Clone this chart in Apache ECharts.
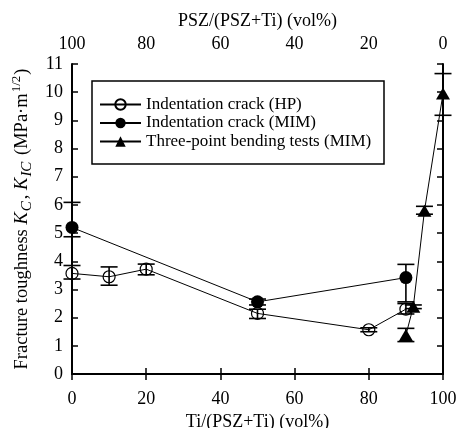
<!DOCTYPE html>
<html><head><meta charset="utf-8">
<script src="https://cdn.jsdelivr.net/npm/echarts@6/dist/echarts.min.js"></script>
<style>html,body{margin:0;padding:0;background:#fff}#c{width:460px;height:428px}</style>
</head><body><div id="c"></div>
<script>
// Data
var seriesNames = ['Indentation crack (HP)', 'Indentation crack (MIM)', 'Three-point bending tests (MIM)'];
var xTicksBottom = [0, 20, 40, 60, 80, 100];
var hpX = [0, 10, 20, 50, 80, 90];
var hpY = [3.57, 3.45, 3.72, 2.15, 1.57, 2.30];
var hpLow = [3.37, 3.15, 3.52, 1.97, 1.50, 2.13];
var hpHigh = [3.85, 3.80, 3.90, 2.30, 1.64, 2.50];
var mimX = [0, 50, 90];
var mimY = [5.20, 2.56, 3.42];
var mimLow = [4.87, 2.45, 2.56];
var mimHigh = [6.09, 2.66, 3.89];
var tpbX = [90, 92, 95, 100];
var tpbY = [1.38, 2.39, 5.79, 9.95];
var tpbLow = [1.15, 2.32, 5.67, 9.18];
var tpbHigh = [1.62, 2.45, 5.95, 10.66];

function pts(xs, ys) { return xs.map(function (x, i) { return [x, ys[i]]; }); }
function errs(xs, lo, hi) { return xs.map(function (x, i) { return [x, lo[i], hi[i]]; }); }

var FONT = '"Liberation Serif", "Times New Roman", serif';
function errSeries(data) {
  return {
    type: 'custom', xAxisIndex: 0, yAxisIndex: 0, clip: false, silent: true, z: 3,
    data: data,
    renderItem: function (params, api) {
      var x = api.value(0), lo = api.value(1), hi = api.value(2);
      var p1 = api.coord([x, lo]), p2 = api.coord([x, hi]);
      var w = 8.5;
      var st = { stroke: '#000', lineWidth: 1.6 };
      return { type: 'group', children: [
        { type: 'line', shape: { x1: p1[0], y1: p1[1], x2: p2[0], y2: p2[1] }, style: st },
        { type: 'line', shape: { x1: p1[0] - w, y1: p1[1], x2: p1[0] + w, y2: p1[1] }, style: st },
        { type: 'line', shape: { x1: p2[0] - w, y1: p2[1], x2: p2[0] + w, y2: p2[1] }, style: st }
      ] };
    }
  };
}

var axisCommon = {
  axisLine: { lineStyle: { color: '#000', width: 2 } },
  axisTick: { inside: true, length: 6, lineStyle: { color: '#000', width: 1.5 } },
  splitLine: { show: false },
  axisLabel: { color: '#000', fontFamily: FONT, fontSize: 18 },
  nameTextStyle: { color: '#000', fontFamily: FONT, fontSize: 18 }
};
function ax(extra) { return Object.assign({}, JSON.parse(JSON.stringify(axisCommon)), extra); }

var chart = echarts.init(document.getElementById('c'), null, { renderer: 'canvas' });
chart.setOption({
  animation: false,
  backgroundColor: '#fff',
  grid: { left: 72, right: 17, top: 64, bottom: 54, containLabel: false, outerBoundsMode: 'none' },
  xAxis: [
    ax({ type: 'value', position: 'bottom', min: 0, max: 100, interval: 20,
      name: 'Ti/(PSZ+Ti) (vol%)', nameLocation: 'middle', nameGap: 34,
      axisLabel: { color: '#000', fontFamily: FONT, fontSize: 18, margin: 16 } }),
    ax({ type: 'value', position: 'top', min: 0, max: 100, interval: 20, inverse: true,
      name: 'PSZ/(PSZ+Ti) (vol%)', nameLocation: 'middle', nameGap: 32,
      axisLabel: { color: '#000', fontFamily: FONT, fontSize: 18, margin: 11 } })
  ],
  yAxis: [
    ax({ type: 'value', position: 'left', min: 0, max: 11, interval: 1,
      name: '{a|Fracture toughness }{i|K}{s|C}{a|, }{i|K}{s|IC}{a| (MPa·m}{p|1/2}{a|)}',
      nameLocation: 'middle', nameGap: 36,
      axisLabel: { color: '#000', fontFamily: FONT, fontSize: 18, margin: 9 },
      nameTextStyle: { color: '#000', fontFamily: FONT, fontSize: 18,
        rich: {
          a: { fontFamily: FONT, fontSize: 18.5, color: '#000', lineHeight: 24 },
          i: { fontFamily: FONT, fontSize: 18.5, fontStyle: 'italic', color: '#000', lineHeight: 24 },
          s: { fontFamily: FONT, fontSize: 15, fontStyle: 'italic', color: '#000', lineHeight: 24, verticalAlign: 'bottom', padding: [0, 2, 0, 1] },
          p: { fontFamily: FONT, fontSize: 13, color: '#000', lineHeight: 24, verticalAlign: 'top', padding: [0, 1, 0, 1] }
        } } }),
    ax({ type: 'value', position: 'right', min: 0, max: 11, interval: 1,
      axisLabel: { show: false } })
  ],
  legend: {
    orient: 'vertical', left: 99, top: 95.5, itemWidth: 41, itemHeight: 13, itemGap: 0.5,
    padding: 0,
    textStyle: { color: '#000', fontFamily: FONT, fontSize: 17, lineHeight: 18 },
    data: seriesNames
  },
  graphic: [{ type: 'rect', shape: { x: 92, y: 81, width: 292, height: 83 },
    style: { fill: 'none', stroke: '#000', lineWidth: 1.5 }, z: 10 }],
  series: [
    { name: seriesNames[0], type: 'line', data: pts(hpX, hpY), clip: false, z: 4,
      symbol: 'circle', symbolSize: 12,
      lineStyle: { color: '#000', width: 1 },
      itemStyle: { color: 'rgba(0,0,0,0)', borderColor: '#000', borderWidth: 1.2 } },
    { name: seriesNames[1], type: 'line', data: pts(mimX, mimY), clip: false, z: 4,
      symbol: 'circle', symbolSize: 13,
      lineStyle: { color: '#000', width: 1 },
      itemStyle: { color: '#000', borderColor: '#000', borderWidth: 0 } },
    { name: seriesNames[2], type: 'line', data: pts(tpbX, tpbY), clip: false, z: 4,
      symbol: 'triangle', symbolSize: [14, 12],
      lineStyle: { color: '#000', width: 1 },
      itemStyle: { color: '#000', borderColor: '#000', borderWidth: 0 } },
    errSeries(errs(hpX, hpLow, hpHigh)),
    errSeries(errs(mimX, mimLow, mimHigh)),
    errSeries(errs(tpbX, tpbLow, tpbHigh))
  ]
});
</script></body></html>
